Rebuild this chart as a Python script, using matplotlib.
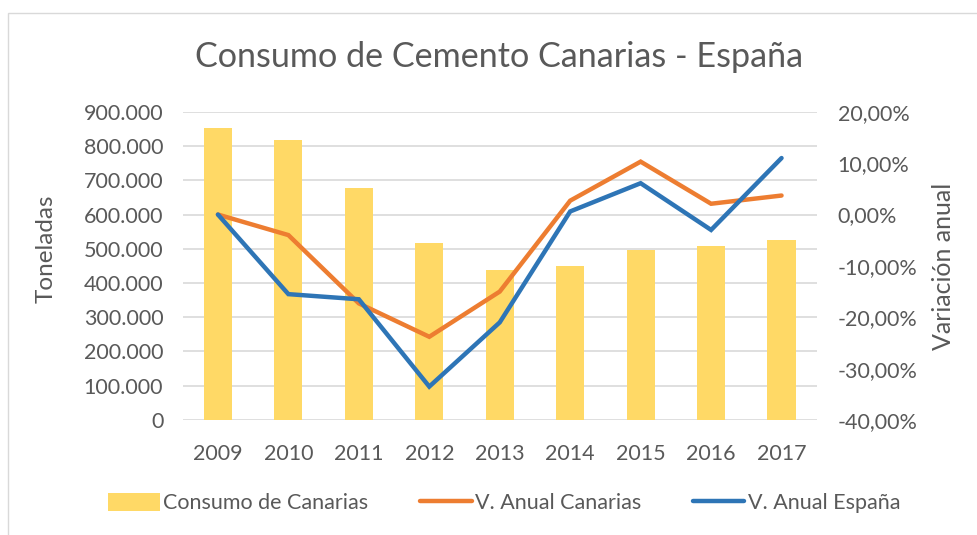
import matplotlib
matplotlib.use("Agg")
import matplotlib.pyplot as plt
from matplotlib.lines import Line2D
from matplotlib.patches import Patch, Rectangle

plt.rcParams['font.family'] = ['Lato', 'DejaVu Sans']

years = ["2009", "2010", "2011", "2012", "2013", "2014", "2015", "2016", "2017"]
consumo_canarias = [853000, 818000, 677000, 516000, 439000, 450000, 497000, 507000, 526000]
var_canarias = [0.0, -4.0, -17.3, -23.8, -15.0, 2.7, 10.3, 2.1, 3.7]
var_espana = [0.0, -15.5, -16.5, -33.5, -21.0, 0.6, 6.1, -3.0, 11.0]

left_ticks = [0, 100000, 200000, 300000, 400000, 500000, 600000, 700000, 800000, 900000]
right_ticks = [-40, -30, -20, -10, 0, 10, 20]

grey = '#595959'
bar_color = '#FFD966'
orange = '#ED7D31'
blue = '#2E75B6'

fig = plt.figure(figsize=(9.77, 5.35), dpi=100)
fig.patches.append(Rectangle((0.008, -0.01), 1.0, 0.985, transform=fig.transFigure,
                             fill=False, edgecolor='#D9D9D9', linewidth=1.0))

ax = fig.add_axes([0.187, 0.215, 0.649, 0.576])
x = list(range(len(years)))
ax.bar(x, consumo_canarias, width=0.4, color=bar_color, zorder=2)
ax.set_ylim(0, 900000)
ax.set_xlim(-0.5, len(years) - 0.5)
ax.set_yticks(left_ticks)
ax.set_yticklabels([f"{v:,}".replace(",", ".") for v in left_ticks])
ax.set_xticks(x)
ax.set_xticklabels(years)
ax.grid(axis='y', color='#D9D9D9', linewidth=1.2, zorder=0)
ax.set_axisbelow(True)
for s in ax.spines.values():
    s.set_visible(False)
ax.tick_params(axis='x', length=0, labelsize=15.5, colors=grey, pad=17)
ax.tick_params(axis='y', length=0, labelsize=15.5, colors=grey, pad=14)
ax.set_ylabel("Toneladas", fontsize=17.5, color=grey, va='center')
ax.yaxis.set_label_coords(-0.216, 0.555)

ax2 = ax.twinx()
ax2.plot(x, var_canarias, color=orange, linewidth=3.2, solid_capstyle='round', solid_joinstyle='miter', zorder=3)
ax2.plot(x, var_espana, color=blue, linewidth=3.2, solid_capstyle='round', solid_joinstyle='miter', zorder=4)
ax2.set_ylim(-40, 20)
ax2.set_yticks(right_ticks)
ax2.set_yticklabels([f"{v:.2f}%".replace(".", ",") for v in right_ticks])
for s in ax2.spines.values():
    s.set_visible(False)
ax2.tick_params(axis='y', length=0, labelsize=15.5, colors=grey, pad=15)
ax2.set_ylabel("Variación anual", fontsize=18, color=grey, va='center', rotation=90)
ax2.yaxis.set_label_coords(1.2, 0.497)

fig.text(0.511, 0.893, "Consumo de Cemento Canarias - España", ha='center', va='center',
         fontsize=24.6, color=grey)

handles = [Patch(facecolor=bar_color, edgecolor='none'),
           Line2D([0], [0], color=orange, linewidth=3.2, solid_capstyle='round'),
           Line2D([0], [0], color=blue, linewidth=3.2, solid_capstyle='round')]
labels = ["Consumo de Canarias", "V. Anual Canarias", "V. Anual España"]
fig.legend(handles, labels, loc='center', bbox_to_anchor=(0.516, 0.06), ncol=3,
           frameon=False, fontsize=15.5, labelcolor=grey, handlelength=2.4,
           handletextpad=0.15, columnspacing=2.4, handleheight=0.9)

fig.savefig("out.png", dpi=100)
